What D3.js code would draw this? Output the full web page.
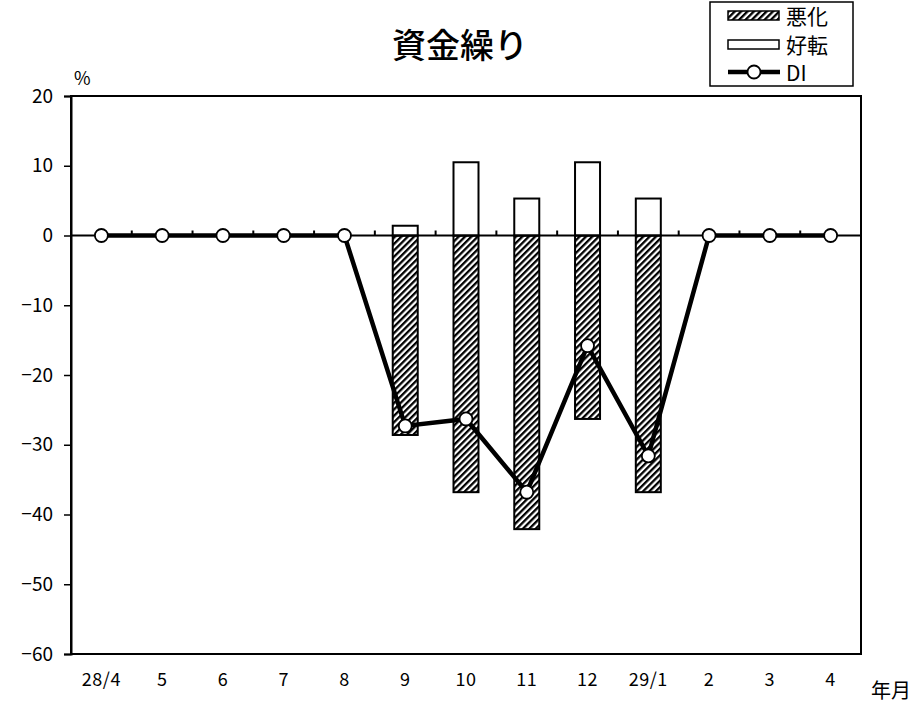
<!DOCTYPE html>
<html>
<head>
<meta charset="utf-8">
<script src="https://cdn.jsdelivr.net/npm/d3@7"></script>
<style>
  body { margin: 0; background: #fff; }
  svg text { font-family: "Noto Sans CJK JP", "DejaVu Sans", sans-serif; fill: #000; }
</style>
</head>
<body>
<div id="chart"></div>
<script>
"use strict";

// 資金繰り DI chart

//
//   DATA
//

var months = ["28/4", "5", "6", "7", "8", "9", "10", "11", "12", "29/1", "2", "3", "4"];
var worse = [null, null, null, null, null, -28.6, -36.8, -42.1, -26.3, -36.8, null, null, null];   // 悪化
var better = [null, null, null, null, null, 1.4, 10.5, 5.3, 10.5, 5.3, null, null, null];        // 好転
var di = [0, 0, 0, 0, 0, -27.3, -26.3, -36.8, -15.8, -31.6, 0, 0, 0];
var yTicks = [20, 10, 0, -10, -20, -30, -40, -50, -60];

//
//   SET UP
//

var W = 918, H = 706;
var plotLeft = 71, plotRight = 861, plotTop = 96, plotBottom = 654;

var svg = d3.select("#chart").append("svg")
    .attr("width", W)
    .attr("height", H);

var defs = svg.append("defs");
var pat = defs.append("pattern")
    .attr("id", "hatch")
    .attr("patternUnits", "userSpaceOnUse")
    .attr("width", 4.5)
    .attr("height", 4.5)
    .attr("patternTransform", "rotate(45)");
pat.append("rect").attr("width", 4.5).attr("height", 4.5).attr("fill", "#fff");
pat.append("rect").attr("width", 2.3).attr("height", 4.5).attr("fill", "#000");

var x = d3.scaleBand().domain(months).range([plotLeft, plotRight]);
var y = d3.scaleLinear().domain([-60, 20]).range([plotBottom, plotTop]);
var barW = 25;

function cx(m) { return x(m) + x.bandwidth() / 2; }

// Title
svg.append("text")
    .attr("x", 460)
    .attr("y", 58)
    .attr("text-anchor", "middle")
    .style("font-size", "34px")
    .style("font-weight", "500")
    .text("資金繰り");

// Plot frame
svg.append("rect")
    .attr("x", plotLeft).attr("y", plotTop)
    .attr("width", plotRight - plotLeft).attr("height", plotBottom - plotTop)
    .attr("fill", "none")
    .attr("stroke", "#000")
    .attr("stroke-width", 2);

// Y axis
var yAxis = svg.append("g")
    .attr("transform", "translate(" + plotLeft + ",0)")
    .attr("font-size", 19)
    .call(d3.axisLeft(y).tickValues(yTicks).tickSize(7).tickPadding(11)
        .tickFormat(function (d) { return d < 0 ? "\u2212" + Math.abs(d) : d; }));
yAxis.attr("font-size", 19).attr("font-family", "'Noto Sans CJK JP', sans-serif");
yAxis.select(".domain").attr("stroke-width", 2);
yAxis.selectAll(".tick line").attr("stroke-width", 1.5);
yAxis.selectAll("text").style("font-size", "19px");

svg.append("text")
    .attr("x", 74).attr("y", 85)
    .style("font-size", "18px")
    .text("%");

// Bars: 悪化 (hatched, downward)
var worseData = months.map(function (m, i) { return { m: m, v: worse[i] }; })
    .filter(function (d) { return d.v !== null; });
svg.selectAll("rect.worse").data(worseData).enter().append("rect")
    .attr("class", "worse")
    .attr("x", function (d) { return cx(d.m) - barW / 2; })
    .attr("y", y(0))
    .attr("width", barW)
    .attr("height", function (d) { return y(d.v) - y(0); })
    .attr("fill", "url(#hatch)")
    .attr("stroke", "#000")
    .attr("stroke-width", 2);

// Bars: 好転 (white, upward)
var betterData = months.map(function (m, i) { return { m: m, v: better[i] }; })
    .filter(function (d) { return d.v !== null; });
svg.selectAll("rect.better").data(betterData).enter().append("rect")
    .attr("class", "better")
    .attr("x", function (d) { return cx(d.m) - barW / 2; })
    .attr("y", function (d) { return y(d.v); })
    .attr("width", barW)
    .attr("height", function (d) { return y(0) - y(d.v); })
    .attr("fill", "#fff")
    .attr("stroke", "#000")
    .attr("stroke-width", 2);

// Zero line with small category ticks
svg.append("line")
    .attr("x1", plotLeft).attr("x2", plotRight)
    .attr("y1", y(0)).attr("y2", y(0))
    .attr("stroke", "#000").attr("stroke-width", 2);
svg.selectAll("line.ztick").data(months.slice(1)).enter().append("line")
    .attr("class", "ztick")
    .attr("x1", function (d) { return x(d); })
    .attr("x2", function (d) { return x(d); })
    .attr("y1", y(0)).attr("y2", y(0) - 5)
    .attr("stroke", "#000").attr("stroke-width", 2);

// X labels
svg.selectAll("text.xlab").data(months).enter().append("text")
    .attr("class", "xlab")
    .attr("x", function (d) { return cx(d); })
    .attr("y", 686)
    .attr("text-anchor", "middle")
    .style("font-size", "18px")
    .style("letter-spacing", "0.5px")
    .text(function (d) { return d; });

svg.append("text")
    .attr("x", 871).attr("y", 698)
    .style("font-size", "20px")
    .text("年月");

// DI line
var line = d3.line()
    .x(function (d, i) { return cx(months[i]); })
    .y(function (d) { return y(d); });
svg.append("path")
    .attr("d", line(di))
    .attr("fill", "none")
    .attr("stroke", "#000")
    .attr("stroke-width", 4.5)
    .attr("stroke-linejoin", "miter");
svg.selectAll("circle.di").data(di).enter().append("circle")
    .attr("class", "di")
    .attr("cx", function (d, i) { return cx(months[i]); })
    .attr("cy", function (d) { return y(d); })
    .attr("r", 6.5)
    .attr("fill", "#fff")
    .attr("stroke", "#000")
    .attr("stroke-width", 1.8);

//
//   LEGEND
//

var lg = svg.append("g");
lg.append("rect")
    .attr("x", 710).attr("y", 2).attr("width", 143).attr("height", 84)
    .attr("fill", "#fff").attr("stroke", "#000").attr("stroke-width", 1.5);
lg.append("rect")
    .attr("x", 728).attr("y", 11).attr("width", 51).attr("height", 9)
    .attr("fill", "url(#hatch)").attr("stroke", "#000").attr("stroke-width", 1.5);
lg.append("rect")
    .attr("x", 728).attr("y", 40).attr("width", 51).attr("height", 9)
    .attr("fill", "#fff").attr("stroke", "#000").attr("stroke-width", 1.5);
lg.append("line")
    .attr("x1", 728).attr("x2", 780).attr("y1", 72).attr("y2", 72)
    .attr("stroke", "#000").attr("stroke-width", 4.5);
lg.append("circle")
    .attr("cx", 754).attr("cy", 72).attr("r", 6.5)
    .attr("fill", "#fff").attr("stroke", "#000").attr("stroke-width", 1.8);
var legendLabels = ["悪化", "好転", "DI"];
lg.selectAll("text").data(legendLabels).enter().append("text")
    .attr("x", 786)
    .attr("y", function (d, i) { return 24 + i * 28.5; })
    .style("font-size", "21px")
    .text(function (d) { return d; });
</script>
</body>
</html>
